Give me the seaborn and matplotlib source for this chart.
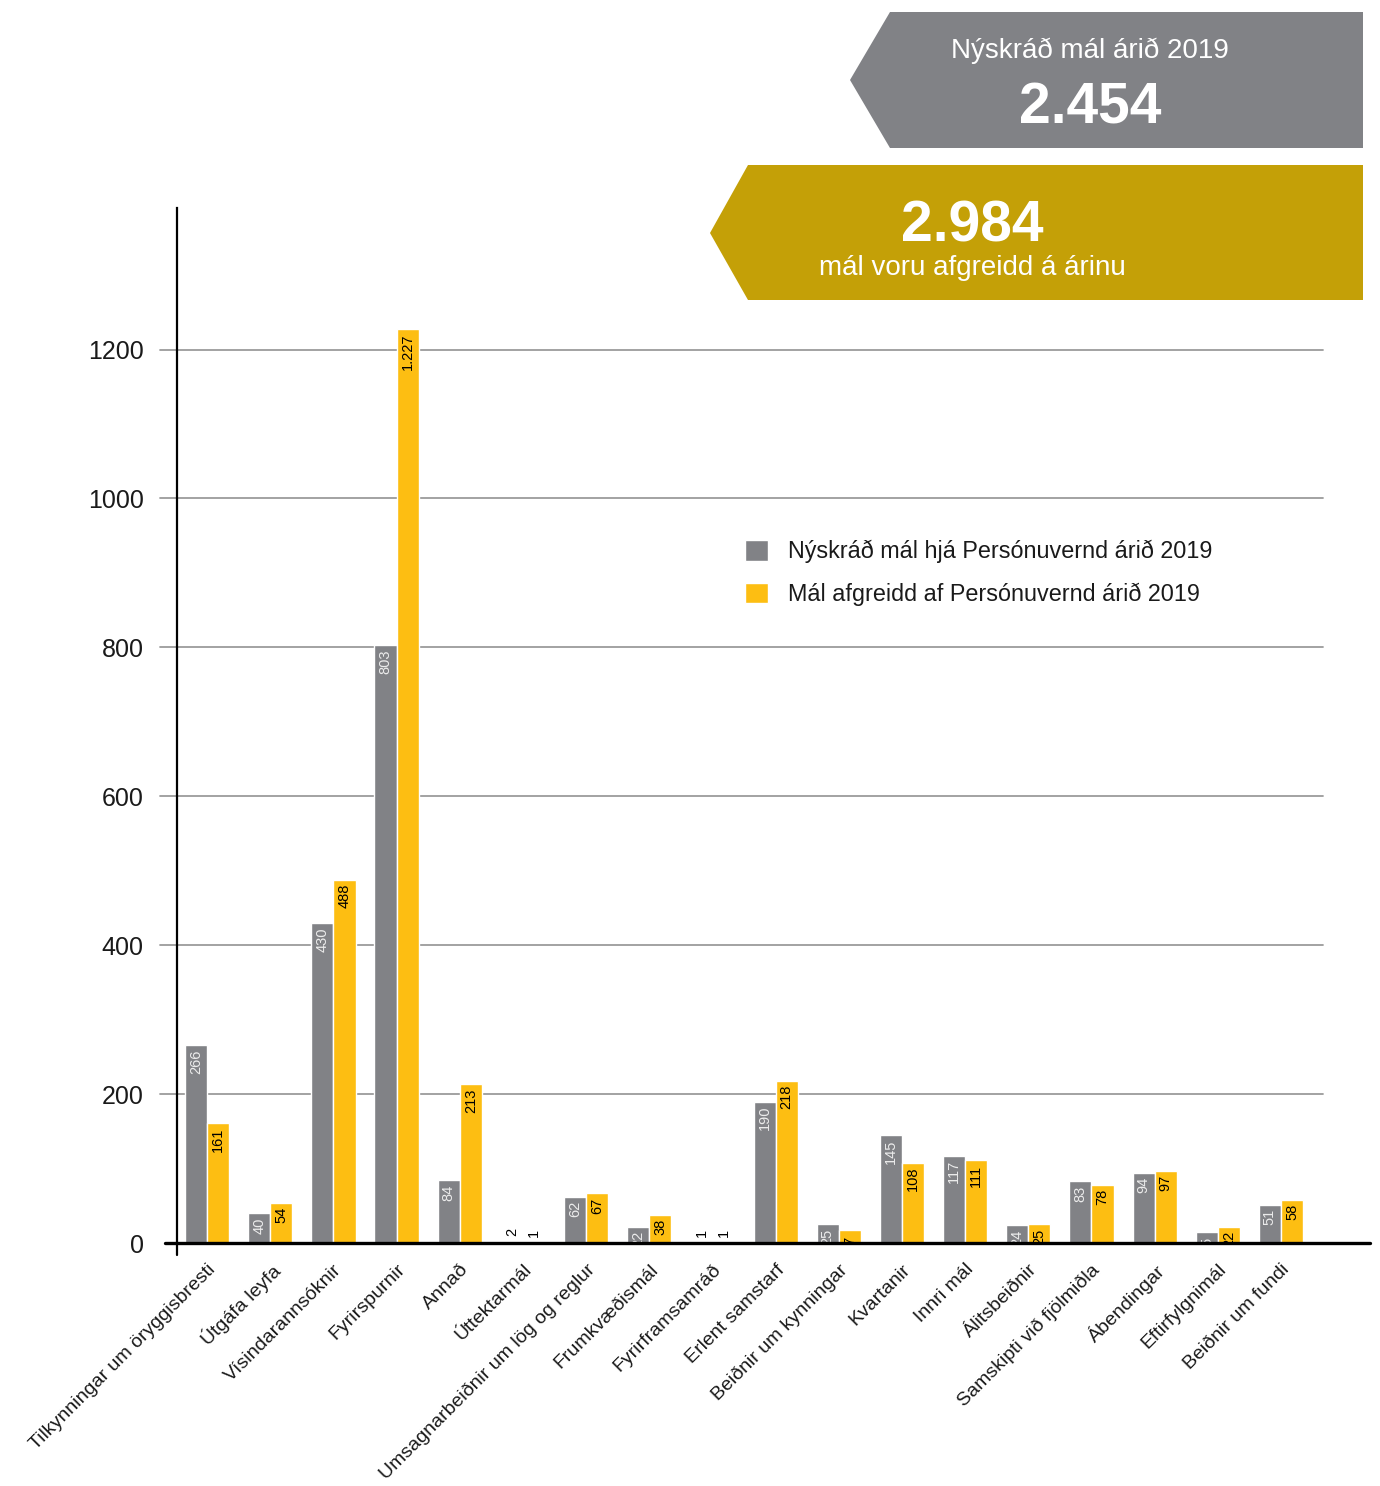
import pandas as pd
import seaborn as sns
import matplotlib.pyplot as plt
from matplotlib.patches import Polygon

# data
categories = [
    'Tilkynningar um öryggisbresti', 'Útgáfa leyfa', 'Vísindarannsóknir',
    'Fyrirspurnir', 'Annað', 'Úttektarmál', 'Umsagnarbeiðnir um lög og reglur',
    'Frumkvæðismál', 'Fyrirframsamráð', 'Erlent samstarf', 'Beiðnir um kynningar',
    'Kvartanir', 'Innri mál', 'Álitsbeiðnir', 'Samskipti við fjölmiðla',
    'Ábendingar', 'Eftirfylgnimál', 'Beiðnir um fundi',
]
new_cases = [266, 40, 430, 803, 84, 2, 62, 22, 1, 190, 25, 145, 117, 24, 83, 94, 15, 51]
closed_cases = [161, 54, 488, 1227, 213, 1, 67, 38, 1, 218, 17, 108, 111, 25, 78, 97, 22, 58]
series_names = ['Nýskráð mál hjá Persónuvernd árið 2019',
                'Mál afgreidd af Persónuvernd árið 2019']
yticks = [0, 200, 400, 600, 800, 1000, 1200]

total_new = '2.454'
total_closed = '2.984'

GREY = '#818286'
YELLOW = '#FDBE12'
GOLD = '#C4A007'

df = pd.DataFrame({
    'category': categories * 2,
    'value': new_cases + closed_cases,
    'series': [series_names[0]] * len(categories) + [series_names[1]] * len(categories),
})

sns.set_style('white')
plt.rcParams['font.family'] = ['Liberation Sans', 'DejaVu Sans']

fig = plt.figure(figsize=(13.8, 14.86), dpi=100)
ax = fig.add_axes([0.1283, 0.1635, 0.8645, 0.6965])

sns.barplot(data=df, x='category', y='value', hue='series',
            palette=[GREY, YELLOW], width=0.7, saturation=1,
            ax=ax, zorder=2)

ax.set_xlim(-0.475, 18.41)
ax.set_ylim(0, 1390)
ax.set_xlabel('')
ax.set_ylabel('')

# gridlines (stop short of the right end)
for y in yticks[1:]:
    ax.axhline(y, xmin=-0.014, xmax=0.9606, color='#9b9b9b', lw=1.3,
               zorder=0, clip_on=False)

ax.set_yticks(yticks)
ax.tick_params(axis='y', length=0, labelsize=18, pad=24)
ax.tick_params(axis='x', length=0, pad=13)
ax.set_xticks(range(len(categories)))
ax.set_xticklabels(categories, rotation=45, ha='right', rotation_mode='anchor',
                   fontsize=14, color='#1a1a1a')
for t in ax.get_yticklabels():
    t.set_color('#1a1a1a')

for s in ['top', 'right']:
    ax.spines[s].set_visible(False)
ax.spines['left'].set_linewidth(1.6)
ax.spines['left'].set_color('black')
ax.spines['bottom'].set_visible(False)
ax.plot([-0.01, 1], [0, 0], transform=ax.transAxes, color='black', lw=2.4,
        clip_on=False, zorder=5)
ax.plot([0, 0], [-0.012, 0], transform=ax.transAxes, color='black', lw=1.6,
        clip_on=False, zorder=5)

# value labels on the bars
for container, txt_color in zip(ax.containers, ['#ececec', 'black']):
    for patch in container:
        h = patch.get_height()
        xc = patch.get_x() + patch.get_width() / 2
        if h < 5:
            ax.annotate(f'{int(h)}', (xc, h), xytext=(0, 4),
                        textcoords='offset points', rotation=90,
                        ha='center', va='bottom', fontsize=10.5, color='black')
        else:
            label = f'{h:,.0f}'.replace(',', '.')
            ax.annotate(label, (xc, h), xytext=(0, -3),
                        textcoords='offset points', rotation=90,
                        ha='center', va='top', fontsize=10.5, color=txt_color,
                        zorder=4, clip_on=True)

# legend
handles, labels = ax.get_legend_handles_labels()
ax.legend(handles, labels, loc='upper left',
          bbox_to_anchor=(745 / 1380, 1 - 540 / 1486),
          bbox_transform=fig.transFigure, frameon=False, fontsize=16.8,
          handlelength=1.0, handleheight=1.0, handletextpad=0.86,
          labelspacing=0.82, borderpad=0, borderaxespad=0,
          labelcolor='#1a1a1a')


def px(x, y):
    return (x / 1380, 1 - y / 1486)


# banners
grey_banner = Polygon([px(890, 12), px(1363, 12), px(1363, 148), px(890, 148), px(850, 80)],
                      closed=True, transform=fig.transFigure, color=GREY, lw=0)
gold_banner = Polygon([px(748, 165), px(1363, 165), px(1363, 300), px(748, 300), px(710, 233)],
                      closed=True, transform=fig.transFigure, color=GOLD, lw=0)
fig.add_artist(grey_banner)
fig.add_artist(gold_banner)

fig.text(*px(1090, 58), 'Nýskráð mál árið 2019', color='white', fontsize=20,
         ha='center', va='baseline')
fig.text(*px(1090, 124), total_new, color='white', fontsize=41,
         fontweight='bold', ha='center', va='baseline')
fig.text(*px(972, 241), total_closed, color='white', fontsize=41,
         fontweight='bold', ha='center', va='baseline')
fig.text(*px(972, 275), 'mál voru afgreidd á árinu', color='white', fontsize=20,
         ha='center', va='baseline')

fig.savefig('out.png', dpi=100)
